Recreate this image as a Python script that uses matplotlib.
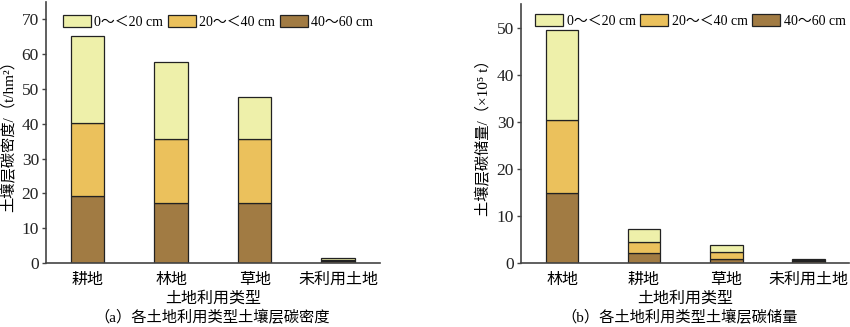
import matplotlib
matplotlib.use("Agg")
import matplotlib.pyplot as plt
import numpy as np

plt.rcParams['font.family'] = ['Liberation Serif', 'Noto Sans CJK SC', 'DejaVu Sans']
plt.rcParams['axes.unicode_minus'] = False

layers = ["0～＜20 cm", "20～＜40 cm", "40～60 cm"]
colors = {"0～＜20 cm": "#EEF0AA", "20～＜40 cm": "#EBC15C", "40～60 cm": "#A17B43"}

# (a) carbon density, t/hm2
cats_a = ["耕地", "林地", "草地", "未利用土地"]
a_40_60 = [19.3, 17.2, 17.2, 0.7]
a_20_40 = [20.8, 18.5, 18.5, 0.3]
a_0_20 = [25.0, 22.1, 12.1, 0.5]

# (b) carbon storage, 10^5 t
cats_b = ["林地", "耕地", "草地", "未利用土地"]
b_40_60 = [14.9, 2.1, 1.0, 0.5]
b_20_40 = [15.5, 2.4, 1.3, 0.15]
b_0_20 = [19.1, 2.8, 1.6, 0.15]

fig = plt.figure(figsize=(8.5, 3.27), dpi=100)
ax_a = fig.add_axes([0.054, 0.195, 0.393, 0.80])
ax_b = fig.add_axes([0.613, 0.195, 0.386, 0.792])

spine_col = "#444444"


def draw(ax, cats, bottom, mid, top, ylim, yticks, ylabel, anchor):
    x = np.arange(len(cats))
    w = 0.4
    ax.bar(x, bottom, w, color=colors["40～60 cm"], edgecolor="#222222", linewidth=0.9, label="40～60 cm")
    ax.bar(x, mid, w, bottom=bottom, color=colors["20～＜40 cm"], edgecolor="#222222", linewidth=0.9,
           label="20～＜40 cm")
    ax.bar(x, top, w, bottom=np.array(bottom) + np.array(mid), color=colors["0～＜20 cm"],
           edgecolor="#222222", linewidth=0.9, label="0～＜20 cm")
    ax.set_xlim(-0.5, 3.5)
    ax.set_ylim(*ylim)
    ax.set_yticks(yticks)
    ax.set_xticks(x)
    ax.set_xticklabels(cats, fontsize=11.5)
    ax.tick_params(axis="x", length=0, pad=6)
    ax.tick_params(axis="y", length=3, width=1, color=spine_col, labelsize=12.5, pad=2, labelcolor="#222222")
    for s in ["top", "right"]:
        ax.spines[s].set_visible(False)
    for s in ["left", "bottom"]:
        ax.spines[s].set_color(spine_col)
        ax.spines[s].set_linewidth(1.2)
    ax.set_xlabel("土地利用类型", fontsize=11.5, labelpad=2)
    ax.set_ylabel(ylabel, fontsize=11, labelpad=4)
    h, l = ax.get_legend_handles_labels()
    order = [2, 1, 0]
    ax.legend([h[i] for i in order], [l[i] for i in order], ncol=3, frameon=False, fontsize=10,
              loc="upper right", bbox_to_anchor=anchor, handlelength=2.0, handleheight=0.95,
              handletextpad=0.25, columnspacing=0.35, borderaxespad=0.1)


draw(ax_a, cats_a, a_40_60, a_20_40, a_0_20, (0, 75), range(0, 71, 10), "土壤层碳密度/（t/hm²）",
     (1.0, 0.975))
draw(ax_b, cats_b, b_40_60, b_20_40, b_0_20, (0, 55), range(0, 51, 10), "土壤层碳储量/（×10⁵ t）",
     (1.01, 0.99))

fig.text(0.25, 0.004, "（a）各土地利用类型土壤层碳密度", ha="center", va="bottom", fontsize=11)
fig.text(0.80, 0.004, "（b）各土地利用类型土壤层碳储量", ha="center", va="bottom", fontsize=11)

fig.savefig("out.png", dpi=100)
